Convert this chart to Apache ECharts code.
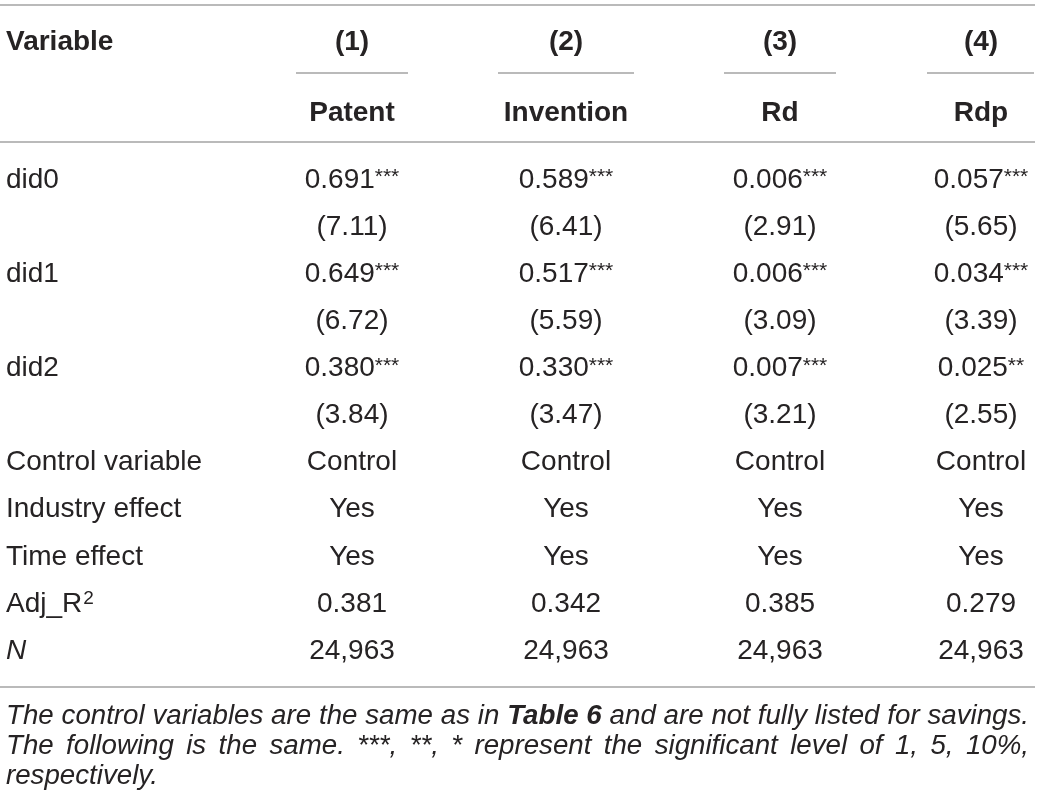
<!DOCTYPE html>
<html>
<head>
<meta charset="utf-8">
<script src="https://cdn.jsdelivr.net/npm/echarts@6/dist/echarts.min.js"></script>
<style>
  html, body { margin: 0; padding: 0; background: #fff; }
  #main { width: 1040px; height: 809px; }
</style>
</head>
<body>
<div id="main"></div>
<script>
// table data
var colNums = ['(1)', '(2)', '(3)', '(4)'];
var depVars = ['Patent', 'Invention', 'Rd', 'Rdp'];
var didNames = ['did0', 'did1', 'did2'];
var coefs = [
   [0.691, 0.589, 0.006, 0.057],
   [0.649, 0.517, 0.006, 0.034],
   [0.380, 0.330, 0.007, 0.025]
];
var stars = [
   ['***', '***', '***', '***'],
   ['***', '***', '***', '***'],
   ['***', '***', '***', '**']
];
var tstats = [
   [7.11, 6.41, 2.91, 5.65],
   [6.72, 5.59, 3.09, 3.39],
   [3.84, 3.47, 3.21, 2.55]
];
var controlRow = ['Control', 'Control', 'Control', 'Control'];
var industryRow = ['Yes', 'Yes', 'Yes', 'Yes'];
var timeRow = ['Yes', 'Yes', 'Yes', 'Yes'];
var adjR2 = [0.381, 0.342, 0.385, 0.279];
var obsN = [24963, 24963, 24963, 24963];
// footnote: each line is a list of [text, bold]
var noteLines = [
   [['The control variables are the same as in', false], ['Table 6', true], ['and are not fully listed for savings.', false]],
   [['The following is the same. ***, **, * represent the significant level of 1, 5, 10%,', false]],
   [['respectively.', false]]
];

// layout
var FONT = '"Liberation Sans", Arial, Helvetica, sans-serif';
var INK = '#262324';
var RULE = '#a3a3a3';
var colX = [352, 566, 780, 981];
var subRule = [[296, 408], [498, 634], [724, 836], [927, 1034]];
var leftX = 6, rightX = 1029;
var rowY0 = 180, rowH = 47.1;

var chart = echarts.init(document.getElementById('main'));
var els = [];

function txt(s, x, y, opt) {
   opt = opt || {};
   els.push({
      type: 'text',
      x: x, y: y,
      style: {
         text: s,
         fontFamily: FONT,
         fontSize: opt.size || 28,
         fontWeight: opt.weight || 'normal',
         fontStyle: opt.italic ? 'italic' : 'normal',
         fill: INK,
         textAlign: opt.align || 'left',
         textVerticalAlign: 'middle',
         rich: opt.rich
      }
   });
}
function rule(x1, x2, y, w) {
   els.push({
      type: 'line',
      shape: { x1: x1, y1: y, x2: x2, y2: y },
      style: { stroke: RULE, lineWidth: w || 1.6 }
   });
}

var supRich = {
   n: { fontFamily: FONT, fontSize: 28, fill: INK, lineHeight: 30 },
   s: { fontFamily: FONT, fontSize: 21, fill: INK, verticalAlign: 'top', lineHeight: 30, padding: [2, 0, 0, 0] },
   p: { fontFamily: FONT, fontSize: 19, fill: INK, verticalAlign: 'top', lineHeight: 30, padding: [0, 0, 0, 1] }
};

// rules
rule(0, 1035, 5);
subRule.forEach(function (r) { rule(r[0], r[1], 73); });
rule(0, 1035, 142);
rule(0, 1035, 687);

// header
txt('Variable', leftX, 42, { weight: 'bold' });
colNums.forEach(function (c, i) { txt(c, colX[i], 42, { weight: 'bold', align: 'center' }); });
depVars.forEach(function (c, i) { txt(c, colX[i], 113, { weight: 'bold', align: 'center' }); });

// body
var r = 0;
didNames.forEach(function (name, k) {
   var y = rowY0 + r * rowH;
   txt(name, leftX, y);
   coefs[k].forEach(function (v, i) {
      txt('{n|' + v.toFixed(3) + '}{s|' + stars[k][i] + '}', colX[i], y, { align: 'center', rich: supRich });
   });
   r++;
   y = rowY0 + r * rowH;
   tstats[k].forEach(function (v, i) { txt('(' + v.toFixed(2) + ')', colX[i], y, { align: 'center' }); });
   r++;
});
[['Control variable', controlRow], ['Industry effect', industryRow], ['Time effect', timeRow]].forEach(function (row) {
   var y = rowY0 + r * rowH;
   txt(row[0], leftX, y);
   row[1].forEach(function (v, i) { txt(v, colX[i], y, { align: 'center' }); });
   r++;
});
var yA = rowY0 + r * rowH;
txt('{n|Adj_R}{p|2}', leftX, yA, { rich: supRich });
adjR2.forEach(function (v, i) { txt(v.toFixed(3), colX[i], yA, { align: 'center' }); });
r++;
var yN = rowY0 + r * rowH;
txt('N', leftX, yN, { italic: true });
obsN.forEach(function (v, i) { txt(echarts.format.addCommas(v), colX[i], yN, { align: 'center' }); });

// footnote, justified word by word; size picked so the first line fits with plain spaces
var ctx = document.createElement('canvas').getContext('2d');
function noteFont(bold, size) { return 'italic ' + (bold ? 'bold ' : '') + size + 'px ' + FONT; }
function splitWords(line, size) {
   var words = [];
   line.forEach(function (seg) {
      seg[0].split(' ').forEach(function (w) {
         ctx.font = noteFont(seg[1], size);
         words.push({ t: w, b: seg[1], w: ctx.measureText(w).width });
      });
   });
   return words;
}
function lineWidth(words, size) {
   ctx.font = noteFont(false, size);
   var sp = ctx.measureText(' ').width;
   return words.reduce(function (a, o) { return a + o.w; }, 0) + sp * (words.length - 1);
}
var NOTE_SIZE = 26;
var natural = lineWidth(splitWords(noteLines[0], NOTE_SIZE), NOTE_SIZE);
NOTE_SIZE = Math.min(28, Math.floor(NOTE_SIZE * (rightX - leftX) / natural * 10) / 10);

noteLines.forEach(function (line, li) {
   var y = 716 + li * 30;
   var words = splitWords(line, NOTE_SIZE);
   var total = words.reduce(function (a, o) { return a + o.w; }, 0);
   ctx.font = noteFont(false, NOTE_SIZE);
   var gap = ctx.measureText(' ').width;
   if (li < noteLines.length - 1) gap = (rightX - leftX - total) / (words.length - 1);
   var x = leftX;
   words.forEach(function (o) {
      els.push({
         type: 'text', x: x, y: y,
         style: {
            text: o.t, fontFamily: FONT, fontSize: NOTE_SIZE, fontStyle: 'italic',
            fontWeight: o.b ? 'bold' : 'normal', fill: INK,
            textAlign: 'left', textVerticalAlign: 'middle'
         }
      });
      x += o.w + gap;
   });
});

chart.setOption({
   animation: false,
   graphic: { elements: els }
});
</script>
</body>
</html>
